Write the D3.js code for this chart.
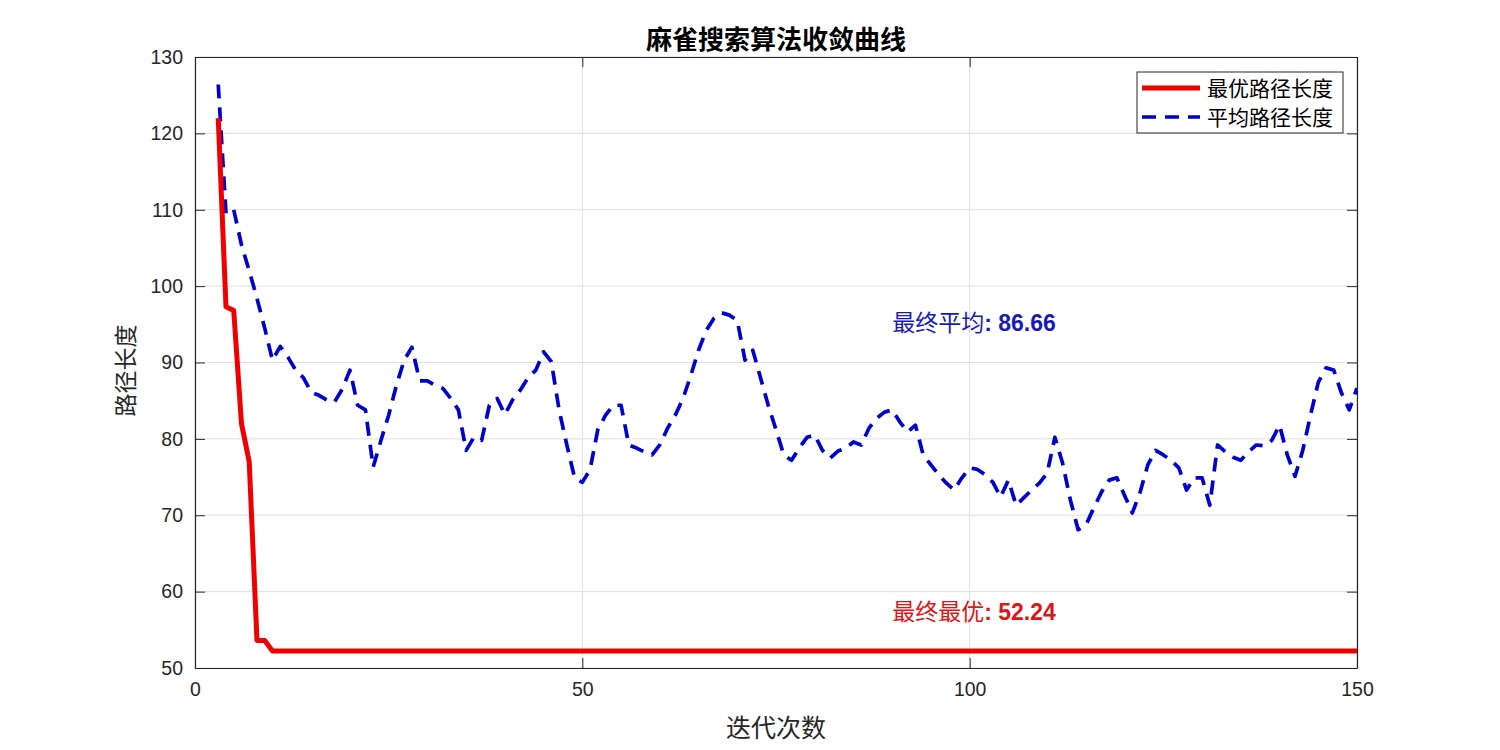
<!DOCTYPE html>
<html><head><meta charset="utf-8">
<script src="https://cdn.jsdelivr.net/npm/d3@7"></script>
<style>body{margin:0;background:#fff}svg{display:block}</style>
</head><body>
<svg id="c" width="1500" height="750"></svg>
<script>
const iterations = d3.range(3, 151);
const bestLength = [122, 97.3, 96.8, 82, 77, 53.6, 53.6,
 52.24,52.24,52.24,52.24,52.24,52.24,52.24,52.24,52.24,52.24,
 52.24,52.24,52.24,52.24,52.24,52.24,52.24,52.24,52.24,52.24,
 52.24,52.24,52.24,52.24,52.24,52.24,52.24,52.24,52.24,52.24,
 52.24,52.24,52.24,52.24,52.24,52.24,52.24,52.24,52.24,52.24,
 52.24,52.24,52.24,52.24,52.24,52.24,52.24,52.24,52.24,52.24,
 52.24,52.24,52.24,52.24,52.24,52.24,52.24,52.24,52.24,52.24,
 52.24,52.24,52.24,52.24,52.24,52.24,52.24,52.24,52.24,52.24,
 52.24,52.24,52.24,52.24,52.24,52.24,52.24,52.24,52.24,52.24,
 52.24,52.24,52.24,52.24,52.24,52.24,52.24,52.24,52.24,52.24,
 52.24,52.24,52.24,52.24,52.24,52.24,52.24,52.24,52.24,52.24,
 52.24,52.24,52.24,52.24,52.24,52.24,52.24,52.24,52.24,52.24,
 52.24,52.24,52.24,52.24,52.24,52.24,52.24,52.24,52.24,52.24,
 52.24,52.24,52.24,52.24,52.24,52.24,52.24,52.24,52.24,52.24,
 52.24,52.24,52.24,52.24,52.24,52.24,52.24,52.24,52.24,52.24,
 52.24];
const avgLength = [126.4, 109.5, 110, 105.4, 102, 98.4, 94.5, 90.3,
 92.1, 90.7, 89, 88, 86.1, 85.7, 85.1, 84.8, 86.5, 89,
 84.4, 83.8, 76.3, 79.8, 83.1, 87, 90.3, 92, 87.6, 87.6,
 87, 86.6, 85.3, 83.8, 78.5, 80.2, 79.8, 84.4, 85.3, 83.2,
 85.1, 86.4, 88, 89, 91.4, 90.1, 83.8, 79.2, 74.9, 74.3,
 76, 81.2, 83.1, 84.4, 84.4, 79.2, 78.8, 78.3, 77.9, 79.2,
 81.4, 83.1, 85.3, 88.3, 91.6, 94.2, 95.8, 96.5, 96.2, 95.5,
 90.3, 91.6, 88, 84.4, 81.2, 77.9, 77.2, 78.8, 80.2, 80.5,
 78.5, 77.5, 78.4, 78.8, 79.6, 79.2, 81.4, 82.7, 83.5, 83.8,
 82.2, 80.9, 81.8, 77.9, 76.6, 75.3, 74.2, 73.3, 74.9, 76.2,
 76, 75.3, 74.3, 72.4, 74.6, 71.3, 72.3, 73.3, 74.2, 75.5,
 80.2, 76.8, 72, 68.1, 68.7, 70.9, 73, 74.6, 74.9, 72.6,
 70.3, 73, 76.6, 78.5, 77.9, 77.2, 76.2, 73.3, 74.9, 74.9,
 71.3, 79.2, 78.3, 77.6, 77.2, 78.3, 79.2, 79.1, 79.8, 81.8,
 77.9, 75.1, 78.5, 83.1, 87.4, 89.3, 89, 86, 83.8, 86.66];
const xTicks = [0, 50, 100, 150];
const yTicks = [50, 60, 70, 80, 90, 100, 110, 120, 130];
const seriesNames = ["最优路径长度", "平均路径长度"];
const titleText = "麻雀搜索算法收敛曲线";
const xLabel = "迭代次数";
const yLabel = "路径长度";
const finalBest = 52.24, finalAvg = 86.66;

const L = 195, R = 1357, T = 57, B = 668;
const svg = d3.select("#c");
const x = d3.scaleLinear().domain([0, 150]).range([L, R]);
const y = d3.scaleLinear().domain([50, 130]).range([B, T]);
const axisColor = "#262626";
const numFont = "'Liberation Sans', Arial, sans-serif";
const cjkFont = "'Noto Sans CJK SC', sans-serif";

// grid
const g = svg.append("g");
g.selectAll(".gx").data(xTicks).join("line")
  .attr("x1", d => x(d)).attr("x2", d => x(d)).attr("y1", T).attr("y2", B)
  .attr("stroke", "#dfdfdf").attr("stroke-width", 1);
g.selectAll(".gy").data(yTicks).join("line")
  .attr("y1", d => y(d)).attr("y2", d => y(d)).attr("x1", L).attr("x2", R)
  .attr("stroke", "#dfdfdf").attr("stroke-width", 1);

// axes (ticks inside)
const tl = 10;
const axB = svg.append("g").attr("transform", `translate(0,${B})`)
  .call(d3.axisBottom(x).tickValues(xTicks).tickSizeInner(-tl).tickSizeOuter(0).tickPadding(14));
const axT = svg.append("g").attr("transform", `translate(0,${T})`)
  .call(d3.axisTop(x).tickValues(xTicks).tickSizeInner(-tl).tickSizeOuter(0).tickFormat(""));
const axL = svg.append("g").attr("transform", `translate(${L},0)`)
  .call(d3.axisLeft(y).tickValues(yTicks).tickSizeInner(-tl).tickSizeOuter(0).tickPadding(12));
const axR = svg.append("g").attr("transform", `translate(${R},0)`)
  .call(d3.axisRight(y).tickValues(yTicks).tickSizeInner(-tl).tickSizeOuter(0).tickFormat(""));
[axB, axT, axL, axR].forEach(a => {
  a.selectAll("path").attr("stroke", axisColor).attr("stroke-width", 1.2);
  a.selectAll("line").attr("stroke", axisColor).attr("stroke-width", 1);
  a.selectAll("text").attr("fill", axisColor).style("font-family", numFont).style("font-size", "19.5px");
});

// clip
svg.append("clipPath").attr("id", "clip").append("rect")
  .attr("x", L).attr("y", T).attr("width", R - L).attr("height", B - T);

const line = d3.line().x((d, i) => x(iterations[i])).y(d => y(d));
const plot = svg.append("g").attr("clip-path", "url(#clip)");
plot.append("path").datum(avgLength).attr("d", line)
  .attr("fill", "none").attr("stroke", "#0000cc").attr("stroke-width", 3.7)
  .attr("stroke-dasharray", "14,9").attr("stroke-linejoin", "round");
plot.append("path").datum(bestLength).attr("d", line)
  .attr("fill", "none").attr("stroke", "#ee0000").attr("stroke-width", 5)
  .attr("stroke-linejoin", "round");

// annotations
function annot(ty, label, val, color) {
  const t = svg.append("text").attr("x", x(90)).attr("y", y(ty))
    .attr("fill", color).style("font-size", "23px");
  t.append("tspan").text(label).style("font-family", cjkFont);
  t.append("tspan").text(": " + val.toFixed(2)).style("font-family", numFont).style("font-weight", "bold");
}
annot(94.1, "最终平均", finalAvg, "#1a1ab8");
annot(56.3, "最终最优", finalBest, "#e01515");

// title & labels
svg.append("text").attr("x", (L + R) / 2).attr("y", 49).attr("text-anchor", "middle")
  .style("font-family", cjkFont).style("font-weight", "bold").style("font-size", "26px")
  .attr("fill", "#000").text(titleText);
svg.append("text").attr("x", (L + R) / 2).attr("y", 737).attr("text-anchor", "middle")
  .style("font-family", cjkFont).style("font-size", "25px").attr("fill", axisColor).text(xLabel);
svg.append("text").attr("transform", `translate(134,${(T + B) / 2 + 8}) rotate(-90)`).attr("text-anchor", "middle")
  .style("font-family", cjkFont).style("font-size", "23px").attr("fill", axisColor).text(yLabel);

// legend
const lg = svg.append("g");
lg.append("rect").attr("x", 1137).attr("y", 72).attr("width", 206).attr("height", 61)
  .attr("fill", "#fff").attr("stroke", "#262626").attr("stroke-width", 1);
const legendStyles = [
  {color: "#ee0000", w: 5, dash: null},
  {color: "#0000cc", w: 3.7, dash: "14,9"}
];
seriesNames.forEach((name, i) => {
  const yy = 88 + i * 29;
  lg.append("line").attr("x1", 1142).attr("x2", 1200).attr("y1", yy).attr("y2", yy)
    .attr("stroke", legendStyles[i].color).attr("stroke-width", legendStyles[i].w)
    .attr("stroke-dasharray", legendStyles[i].dash);
  lg.append("text").attr("x", 1207).attr("y", yy + 7.5).text(name)
    .style("font-family", cjkFont).style("font-size", "21px").attr("fill", "#000");
});
</script>
</body></html>
